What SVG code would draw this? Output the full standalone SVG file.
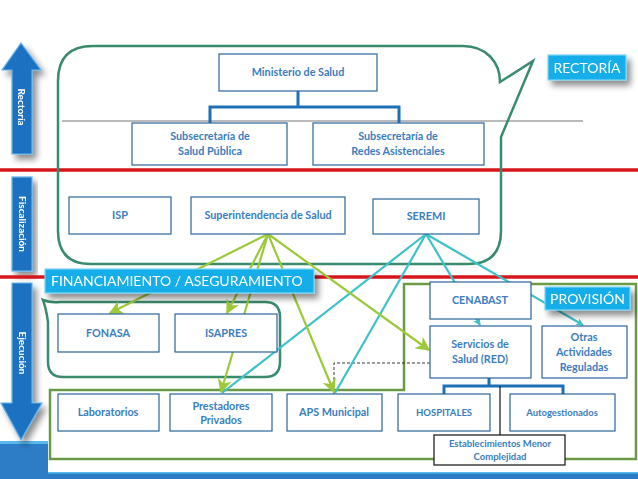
<svg xmlns="http://www.w3.org/2000/svg" width="638" height="479" viewBox="0 0 638 479">
<defs>
<style>
.box{fill:#fff;stroke:#2a6599;stroke-width:1.2}
.blk{fill:#fff;stroke:#111;stroke-width:1.2}
.t{font-family:Lato,"Liberation Sans",sans-serif;font-size:10.8px;font-weight:bold;fill:#3a7dc0;text-anchor:middle}
.tb{font-family:Lato,"Liberation Sans",sans-serif;font-size:9.5px;font-weight:bold;fill:#3a7dc0;text-anchor:middle}
.lab{fill:#12aee8;stroke:#7fd6f5;stroke-width:1.2}
.labt{font-family:Lato,"Liberation Sans",sans-serif;font-size:14px;fill:#fff}
.side{fill:#1f72c0;stroke:#62b4ea;stroke-width:1.2}
.sidet{font-family:Lato,"Liberation Sans",sans-serif;font-size:10px;font-weight:bold;fill:#fff;text-anchor:middle}
.org{fill:none;stroke:#1f6fb5;stroke-width:3}
.g{stroke:#9cc93a;stroke-width:2.2;fill:none}
.c{stroke:#3ec1c9;stroke-width:2.2;fill:none}
.red{stroke:#d7161c;stroke-width:3.5}
</style>
<marker id="ag" viewBox="0 0 10 10" refX="9" refY="5" markerWidth="6.5" markerHeight="6.5" orient="auto" markerUnits="strokeWidth">
<path d="M0,0 L10,5 L0,10 L3,5 Z" fill="#9cc93a"/>
</marker>
<marker id="ac" viewBox="0 0 10 10" refX="9" refY="5" markerWidth="3.5" markerHeight="3.5" orient="auto" markerUnits="strokeWidth">
<path d="M0,0 L10,5 L0,10 L3,5 Z" fill="#3ec1c9"/>
</marker>
<filter id="sh" x="-30%" y="-30%" width="160%" height="180%">
<feGaussianBlur in="SourceAlpha" stdDeviation="3"/>
<feOffset dx="4" dy="5" result="b"/>
<feComponentTransfer><feFuncA type="linear" slope="0.45"/></feComponentTransfer>
<feMerge><feMergeNode/><feMergeNode in="SourceGraphic"/></feMerge>
</filter>
</defs>
<rect width="638" height="479" fill="#fff"/>

<!-- bottom band -->
<g id="band">
<rect x="0" y="441" width="48" height="38" fill="#2d7cc6"/>
<rect x="0" y="441" width="48" height="3" fill="#5ab9ec"/>
<rect x="48" y="472" width="590" height="7" fill="#2d7cc6"/>
<rect x="48" y="472" width="590" height="1.5" fill="#5ab9ec"/>
</g>

<!-- side arrows -->
<g id="side-rectoria" filter="url(#sh)">
<path class="side" d="M21,43 L41,70 L32,70 L32,154 L12,154 L12,70 L2,70 Z"/>
<text class="sidet" transform="translate(21,107) rotate(90)" dy="3.5">Rectoría</text>
</g>
<g id="side-fiscalizacion" filter="url(#sh)">
<rect class="side" x="12" y="177" width="20" height="94"/>
<text class="sidet" transform="translate(22,224) rotate(90)" dy="3.5">Fiscalización</text>
</g>
<g id="side-ejecucion" filter="url(#sh)">
<path class="side" d="M12,283 L32,283 L32,403 L42,403 L21,440 L1,403 L12,403 Z"/>
<text class="sidet" transform="translate(22,353) rotate(90)" dy="3.5">Ejecución</text>
</g>

<!-- separators -->
<g id="lines">
<line class="red" x1="0" y1="170" x2="638" y2="170"/>
<line class="red" x1="0" y1="277" x2="638" y2="277"/>
<line x1="62" y1="121" x2="583" y2="121" stroke="#666" stroke-width="0.9"/>
</g>

<!-- regions -->
<g id="region-rectoria">
<path d="M93,46 L463,46 C486,46 500,62 500,82 L533,61 L501,137 L501,231 Q501,264 468,264 L91,264 Q58,264 58,231 L58,81 Q58,46 93,46 Z" fill="none" stroke="#3a8a6c" stroke-width="2.5"/>
</g>
<g id="region-financiamiento">
<path d="M60,302 L265,302 Q280,302 280,317 L280,362 Q280,377 265,377 L63,377 Q48,377 48,362 L48,322 Q46,308 43,300 Q50,303 60,302 Z" fill="none" stroke="#3a8a6c" stroke-width="2.5"/>
</g>
<g id="region-provision">
<path d="M50,390 L404,390 L404,284 L636,284 L636,459 L50,459 Z" fill="none" stroke="#6a9a45" stroke-width="2.5"/>
</g>

<!-- connectors -->
<g id="connectors">
<path class="org" d="M298,91 L298,107 M210,123 L210,107 L399,107 L399,123"/>
<path class="org" d="M489,378 L489,386 M444,394 L444,386 L563,386 L563,394"/>
<line x1="500" y1="386" x2="500" y2="435" stroke="#111" stroke-width="1.2"/>
<path d="M430,363 L334,363 L334,394" fill="none" stroke="#222" stroke-width="0.9" stroke-dasharray="3,2"/>
<line class="c" x1="426" y1="234" x2="222" y2="393"/>
<line class="c" x1="426" y1="234" x2="335" y2="393"/>
<line class="c" x1="426" y1="234" x2="480" y2="325" marker-end="url(#ac)"/>
<line class="c" x1="426" y1="234" x2="583" y2="325" marker-end="url(#ac)"/>
<line class="g" x1="268" y1="234" x2="110" y2="313" marker-end="url(#ag)"/>
<line class="g" x1="268" y1="234" x2="227" y2="313" marker-end="url(#ag)"/>
<line class="g" x1="268" y1="234" x2="221" y2="392" marker-end="url(#ag)"/>
<line class="g" x1="268" y1="234" x2="334" y2="392" marker-end="url(#ag)"/>
<line class="g" x1="268" y1="234" x2="429" y2="350" marker-end="url(#ag)"/>
</g>

<!-- nodes -->
<g id="ministerio"><rect class="box" x="219" y="54" width="158" height="37"/><text class="t" x="298" y="76">Ministerio de Salud</text></g>
<g id="subsec-salud-publica"><rect class="box" x="132" y="123" width="155" height="42"/><text class="t" x="210" y="140">Subsecretaría de</text><text class="t" x="210" y="155">Salud Pública</text></g>
<g id="subsec-redes"><rect class="box" x="313" y="123" width="171" height="42"/><text class="t" x="398" y="140">Subsecretaría de</text><text class="t" x="398" y="155">Redes Asistenciales</text></g>
<g id="isp"><rect class="box" x="69" y="197" width="102" height="37"/><text class="t" x="120" y="219">ISP</text></g>
<g id="superintendencia"><rect class="box" x="191" y="197" width="154" height="37"/><text class="t" x="268" y="219">Superintendencia de Salud</text></g>
<g id="seremi"><rect class="box" x="373" y="199" width="106" height="35"/><text class="t" x="426" y="220">SEREMI</text></g>
<g id="fonasa"><rect class="box" x="58" y="314" width="101" height="38"/><text class="t" x="108" y="337">FONASA</text></g>
<g id="isapres"><rect class="box" x="175" y="314" width="102" height="38"/><text class="t" x="226" y="337">ISAPRES</text></g>
<g id="cenabast"><rect class="box" x="430" y="282" width="101" height="37"/><text class="t" x="480" y="304">CENABAST</text></g>
<g id="servicios"><rect class="box" x="430" y="326" width="101" height="52"/><text class="t" x="480" y="348">Servicios de</text><text class="t" x="480" y="363">Salud (RED)</text></g>
<g id="otras"><rect class="box" x="542" y="326" width="85" height="52"/><text class="t" x="584" y="341">Otras</text><text class="t" x="584" y="356">Actividades</text><text class="t" x="584" y="371">Reguladas</text></g>
<g id="laboratorios"><rect class="box" x="58" y="394" width="101" height="37"/><text class="t" x="108" y="416">Laboratorios</text></g>
<g id="prestadores"><rect class="box" x="170" y="394" width="102" height="37"/><text class="t" x="221" y="410">Prestadores</text><text class="t" x="221" y="424">Privados</text></g>
<g id="aps"><rect class="box" x="287" y="394" width="95" height="37"/><text class="t" x="334" y="416">APS Municipal</text></g>
<g id="hospitales"><rect class="box" x="398" y="394" width="92" height="37"/><text class="tb" x="444" y="416">HOSPITALES</text></g>
<g id="autogestionados"><rect class="box" x="510" y="394" width="105" height="37"/><text class="tb" x="562" y="416">Autogestionados</text></g>
<g id="establecimientos"><rect class="blk" x="434" y="435" width="131" height="30"/><text class="tb" x="500" y="447">Establecimientos Menor</text><text class="tb" x="500" y="460">Complejidad</text></g>

<!-- labels -->
<g id="label-rectoria" filter="url(#sh)"><rect class="lab" x="548" y="55" width="78" height="25"/><text class="labt" x="587" y="73" text-anchor="middle">RECTORÍA</text></g>
<g id="label-financiamiento" filter="url(#sh)"><rect class="lab" x="45" y="269" width="269" height="24"/><text class="labt" x="51" y="286">FINANCIAMIENTO / ASEGURAMIENTO</text></g>
<g id="label-provision" filter="url(#sh)"><rect class="lab" x="545" y="287" width="85" height="23"/><text class="labt" x="587.5" y="304" text-anchor="middle">PROVISIÓN</text></g>
</svg>
